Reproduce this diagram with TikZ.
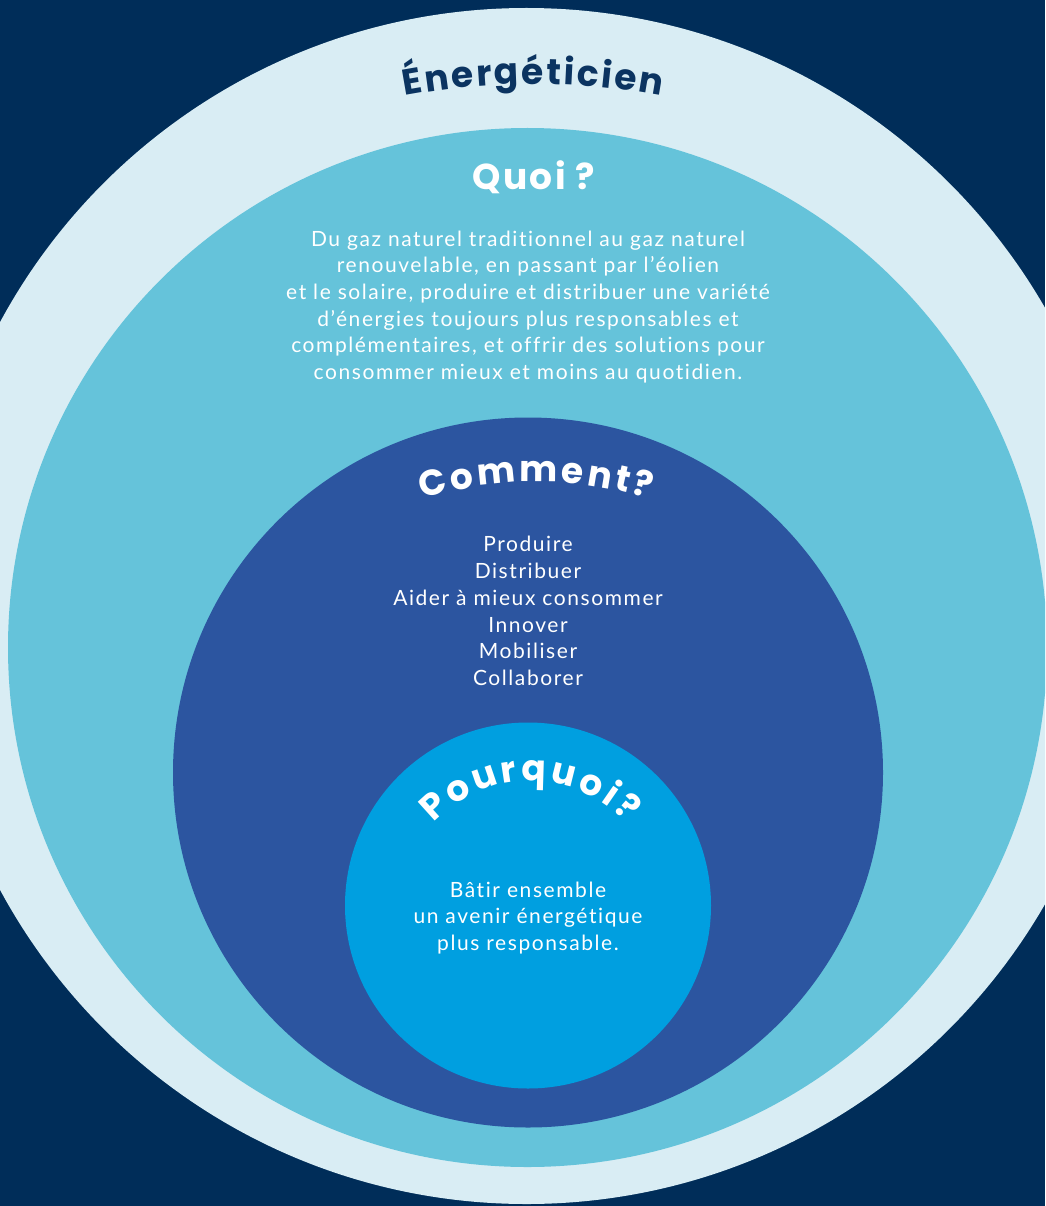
\documentclass[tikz,border=0pt]{standalone}
\usepackage{fontspec}
\setmainfont{Lato}[LetterSpace=7.5, Ligatures=CommonOff]
\newfontfamily\headfont{Poppins}[LetterSpace=6]
\newfontfamily\curvefont{Poppins}
\usetikzlibrary{decorations.text}

\definecolor{navybg}{HTML}{002D59}
\definecolor{palering}{HTML}{D9EDF4}
\definecolor{quoiring}{HTML}{65C3DA}
\definecolor{commentring}{HTML}{2C55A0}
\definecolor{pourquoiring}{HTML}{009FE0}
\definecolor{titlenavy}{HTML}{0B3461}

\tikzset{
  bodytext/.style={text=white, align=center, inner sep=0pt,
    font=\fontsize{21}{26.7}\selectfont},
  headtext/.style={font=\headfont\bfseries\fontsize{36}{36}\selectfont},
  curvedhead/.style n args={3}{decorate, decoration={text effects along path,
    text={#2}, text align=center,
    text effects/.cd, text along path,
    character widths={inner xsep=#3,
      font=\curvefont\bfseries\fontsize{36}{36}\selectfont},
    characters={inner xsep=#3, inner ysep=0pt, text=#1,
      font=\curvefont\bfseries\fontsize{36}{36}\selectfont}}}
}

\begin{document}
\begin{tikzpicture}[x=1pt,y=-1pt]
\useasboundingbox (0,0) rectangle (1045,1206);

% background
\fill[navybg] (0,0) rectangle (1045,1206);

% rings
\begin{scope}
\clip (0,0) rectangle (1045,1206);
\coordinate (outerc) at (526.5,606);
\coordinate (quoic) at (527.5,647.5);
\coordinate (commentc) at (528,772.5);
\coordinate (pourquoic) at (528,905.5);
\fill[palering] (outerc) circle[radius=598];
\fill[quoiring] (quoic) circle[radius=519.5];
\fill[commentring] (commentc) circle[radius=355];
\fill[pourquoiring] (pourquoic) circle[radius=183];
\end{scope}

% curved titles
\path[curvedhead={titlenavy}{Énergéticien}{1.2pt}]
  ([shift={(250:700)}]533,784) arc[start angle=250, end angle=290, radius=700];
\path[curvedhead={white}{Comment?}{1.6pt}]
  ([shift={(240:380)}]536,862) arc[start angle=240, end angle=300, radius=380];
\path[curvedhead={white}{Pourquoi?}{1.8pt}]
  ([shift={(200:131)}]530,912) arc[start angle=200, end angle=340, radius=131];

% Quoi
\node[headtext, text=white, anchor=base] (quoi) at (534,190) {Quoi\;?};
\node[bodytext] (quoitext) at (528,307) {Du gaz naturel traditionnel au gaz naturel\\
  renouvelable, en passant par l’éolien\\
  et le solaire, produire et distribuer une variété\\
  d’énergies toujours plus responsables et\\
  complémentaires, et offrir des solutions pour\\
  consommer mieux et moins au quotidien.};

% Comment
\node[bodytext] (commenttext) at (528,611) {Produire\\Distribuer\\Aider à mieux consommer\\
  Innover\\Mobiliser\\Collaborer};

% Pourquoi
\node[bodytext] (pourquoitext) at (528,918) {Bâtir ensemble\\un avenir énergétique\\
  plus responsable.};

\end{tikzpicture}
\end{document}
